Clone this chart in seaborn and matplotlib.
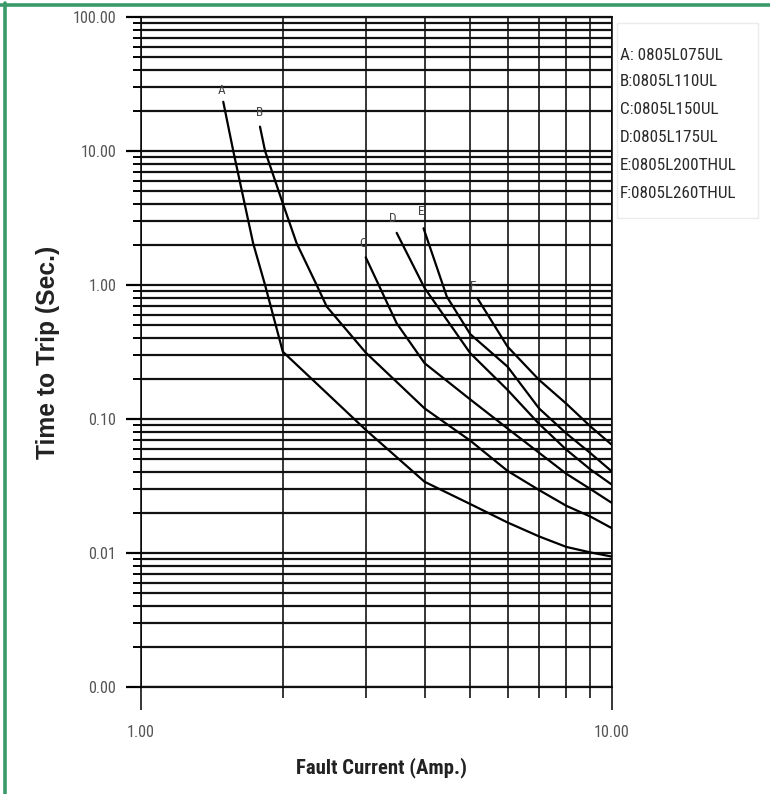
import numpy as np
import pandas as pd
import matplotlib
matplotlib.use("Agg")
import matplotlib.pyplot as plt
import matplotlib.font_manager as fm
from matplotlib.font_manager import FontProperties
from matplotlib.textpath import TextPath
from matplotlib.ticker import FixedLocator, FuncFormatter, NullFormatter, LogLocator
from matplotlib.patches import Rectangle
import seaborn as sns

# ---- data ----
A_x = [1.495, 1.57, 1.73, 1.834, 2.0, 3.0, 4.0, 5.0, 6.0, 7.0, 8.0, 9.0, 10.0]
A_y = [23.3, 10.0, 2.05, 1.0, 0.318, 0.083, 0.034, 0.0232, 0.0169, 0.0133, 0.0111, 0.0101, 0.0094]
B_x = [1.789, 1.834, 2.0, 2.14, 2.36, 2.48, 3.0, 4.0, 5.0, 6.0, 7.0, 8.0, 9.0, 10.0]
B_y = [15.2, 10.0, 4.07, 2.05, 1.0, 0.689, 0.313, 0.120, 0.069, 0.041, 0.0295, 0.0225, 0.0187, 0.0153]
C_x = [3.0, 3.49, 4.0, 5.0, 6.0, 7.0, 8.0, 9.0, 10.0]
C_y = [1.61, 0.518, 0.261, 0.14, 0.085, 0.056, 0.039, 0.030, 0.0236]
D_x = [3.49, 4.0, 5.0, 6.0, 7.0, 8.0, 9.0, 10.0]
D_y = [2.45, 0.95, 0.31, 0.165, 0.092, 0.059, 0.042, 0.0323]
E_x = [3.98, 4.46, 5.0, 6.0, 7.0, 8.0, 9.0, 10.0]
E_y = [2.65, 0.818, 0.43, 0.246, 0.12, 0.078, 0.0556, 0.0405]
F_x = [5.18, 6.0, 7.0, 8.0, 9.0, 10.0]
F_y = [0.796, 0.347, 0.196, 0.13, 0.088, 0.064]

curve_names = ["A", "B", "C", "D", "E", "F"]
label_x = [1.48, 1.789, 2.956, 3.42, 3.94, 5.08]
label_y = [28.5, 19.3, 2.05, 3.14, 3.52, 0.971]
legend_labels = ["A: 0805L075UL", "B:0805L110UL", "C:0805L150UL",
                 "D:0805L175UL", "E:0805L200THUL", "F:0805L260THUL"]
x_ticks = [1.0, 10.0]
y_ticks = [0.001, 0.01, 0.1, 1.0, 10.0, 100.0]
x_label = "Fault Current (Amp.)"
y_label = "Time to Trip (Sec.)"

xs = [A_x, B_x, C_x, D_x, E_x, F_x]
ys = [A_y, B_y, C_y, D_y, E_y, F_y]
frames = []
for name, cx, cy in zip(curve_names, xs, ys):
    frames.append(pd.DataFrame({"current": cx, "time": cy, "fuse": name}))
df = pd.concat(frames, ignore_index=True)

sns.set_style("white")

# pick a narrow face if one is installed
avail = {f.name for f in fm.fontManager.ttflist}
NARROW = next((c for c in ["Liberation Sans Narrow", "Arial Narrow", "Roboto Condensed",
                           "Open Sans Condensed", "Noto Sans Condensed",
                           "DejaVu Sans Condensed", "Liberation Sans", "Roboto"]
               if c in avail), "DejaVu Sans")
WIDE = "Liberation Sans" if "Liberation Sans" in avail else "DejaVu Sans"
plt.rcParams["font.family"] = [NARROW, "DejaVu Sans"]


def fit_size(text, target_px, family, weight="normal"):
    fp = FontProperties(family=family, weight=weight)
    w = TextPath((0, 0), text, size=10, prop=fp).get_extents().width
    return 10 * target_px * 0.72 / w


W, H = 770, 794
fig = plt.figure(figsize=(W / 100, H / 100), dpi=100)
fig.patch.set_facecolor("white")

L, R, T, B = 141, 612, 17, 687
ax = fig.add_axes([L / W, 1 - B / H, (R - L) / W, (B - T) / H])

sns.lineplot(data=df, x="current", y="time", hue="fuse", units="fuse",
             palette=["black"] * 6, sort=False, estimator=None, legend=False,
             lw=1.6, ax=ax)

ax.set_xscale("log")
ax.set_yscale("log")
ax.set_xlim(1, 10)
ax.set_ylim(0.001, 100)

for s in ax.spines.values():
    s.set_visible(False)

ax.xaxis.set_major_locator(FixedLocator(x_ticks))
ax.xaxis.set_minor_locator(LogLocator(base=10, subs=np.arange(2, 10)))
ax.yaxis.set_major_locator(FixedLocator(y_ticks))
ax.yaxis.set_minor_locator(LogLocator(base=10, subs=np.arange(2, 10), numticks=20))
ax.xaxis.set_major_formatter(FuncFormatter(lambda v, p: f"{v:.2f}"))
ax.yaxis.set_major_formatter(FuncFormatter(lambda v, p: f"{v:.2f}"))
ax.xaxis.set_minor_formatter(NullFormatter())
ax.yaxis.set_minor_formatter(NullFormatter())

ax.xaxis.grid(True, which="both", color="black", lw=1.1)
ax.yaxis.grid(True, which="both", color="#111111", lw=1.6)
ax.set_axisbelow(True)
# edge lines (not clipped)
for v in (0.001, 100):
    ax.axhline(v, color="#111111", lw=1.6, clip_on=False, zorder=0.5)
for v in (1, 10):
    ax.axvline(v, color="black", lw=1.1, clip_on=False, zorder=0.5)

tick_fs = fit_size("100.00", 42, NARROW)
ax.tick_params(axis="y", which="major", left=True, length=10.8, width=1.6,
               color="black", pad=7, labelsize=tick_fs, labelcolor="#555555")
ax.tick_params(axis="y", which="minor", left=True, length=5.8, width=1.4, color="black")
ax.tick_params(axis="x", which="major", bottom=True, length=16.6, width=1.1,
               color="black", pad=11, labelsize=tick_fs, labelcolor="#555555")
ax.tick_params(axis="x", which="minor", bottom=True, length=7.9, width=1.1, color="black")

ax.set_xlabel("")
ax.set_ylabel("")

for name, lx, ly in zip(curve_names, label_x, label_y):
    ax.text(lx, ly, name, fontsize=9.5, color="#444444", ha="center", va="center")

# axis titles
fig.text(382 / W, 1 - 768 / H, x_label, ha="center", va="center",
         fontsize=fit_size(x_label, 169, NARROW, "bold"), fontweight="bold",
         color="#222222")
fig.text(48 / W, 1 - 352 / H, y_label, ha="center", va="center", rotation=90,
         fontsize=fit_size(y_label, 212, WIDE, "bold"), fontweight="bold",
         color="#222222", family=[WIDE, "DejaVu Sans"])

# legend box with text
fig.patches.append(Rectangle((617 / W, 1 - 218 / H), (758 - 617) / W, (218 - 23) / H,
                             transform=fig.transFigure, fill=False,
                             edgecolor="#ebebeb", lw=1.0))
legend_fs = fit_size("E:0805L200THUL", 115, NARROW)
legend_y = [55, 82, 110, 138, 166, 193]
for txt, py in zip(legend_labels, legend_y):
    fig.text(620 / W, 1 - py / H, txt, ha="left", va="center", fontsize=legend_fs,
             color="#2a2a2a")

# green frame (top and left)
green = "#3a9a6a"
fig.add_artist(plt.Line2D([0, 1], [1 - 4.5 / H, 1 - 4.5 / H], transform=fig.transFigure,
                          color=green, lw=2.6))
fig.add_artist(plt.Line2D([5 / W, 5 / W], [0, 1 - 3 / H], transform=fig.transFigure,
                          color=green, lw=2.6))

fig.savefig("out.png", dpi=100, facecolor="white")
